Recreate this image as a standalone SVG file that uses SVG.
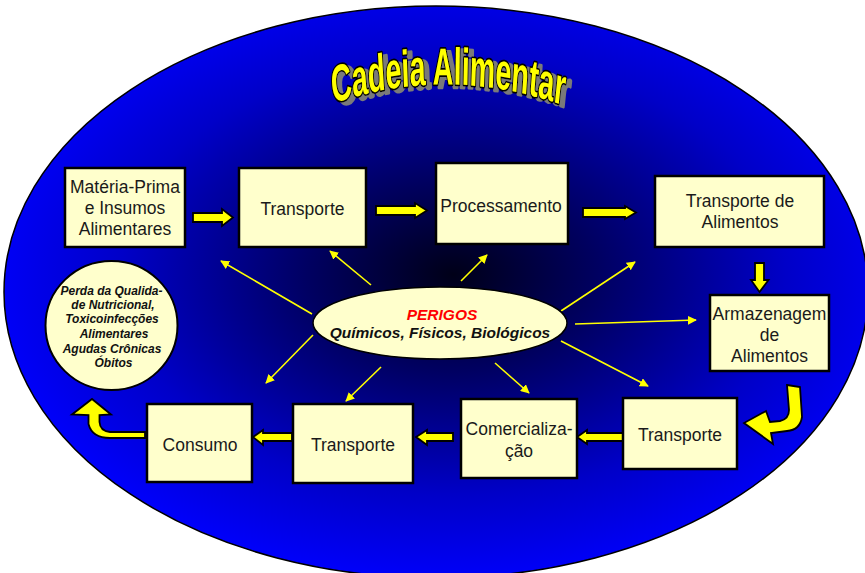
<svg xmlns="http://www.w3.org/2000/svg" width="865" height="573" viewBox="0 0 865 573">
<defs>
<radialGradient id="bg" cx="0.52" cy="0.47" r="0.55">
<stop offset="0" stop-color="#000018"/>
<stop offset="0.3" stop-color="#000060"/>
<stop offset="0.7" stop-color="#0000c8"/>
<stop offset="1" stop-color="#0000ff"/>
</radialGradient>
<filter id="shadow" x="-10%" y="-20%" width="130%" height="150%">
<feOffset in="SourceAlpha" dx="5" dy="3" result="off"/>
<feFlood flood-color="#7a7a7a"/>
<feComposite in2="off" operator="in" result="sh"/>
<feMerge><feMergeNode in="sh"/><feMergeNode in="SourceGraphic"/></feMerge>
</filter>
<marker id="ah" viewBox="0 0 10 10" refX="9" refY="5" markerWidth="9" markerHeight="9" markerUnits="userSpaceOnUse" orient="auto">
<path d="M0,0 L10,5 L0,10 Z" fill="#ffff00"/>
</marker>
<path id="arc" d="M-210,104 Q0,64 215,106"/>
</defs>
<style>
.box{fill:#ffffcc;stroke:#000;stroke-width:2.5}
.t{font-family:"Liberation Sans",Arial,sans-serif;font-size:17.5px;fill:#1a1a1a;text-anchor:middle}
.c{font-family:"Liberation Sans",Arial,sans-serif;font-size:12px;font-weight:bold;font-style:italic;fill:#111;text-anchor:middle}
.p{font-family:"Liberation Sans",Arial,sans-serif;font-size:15.5px;font-weight:bold;font-style:italic;text-anchor:middle}
.big{fill:#ffff00;stroke:#000;stroke-width:1.8;stroke-linejoin:miter}
.thin{stroke:#ffff00;stroke-width:1.6;fill:none;marker-end:url(#ah)}
.title{font-family:"Liberation Sans",Arial,sans-serif;font-size:52px;font-weight:bold}
</style>
<ellipse cx="436" cy="292" rx="432" ry="286" fill="url(#bg)" stroke="#000" stroke-width="1.5"/>
<g id="title" filter="url(#shadow)">
<g transform="translate(447,0) scale(0.55,1)">
<text class="title" fill="#ffff00" stroke="#000" stroke-width="3.5" paint-order="stroke" stroke-linejoin="round" text-anchor="middle"><textPath href="#arc" startOffset="50%">Cadeia Alimentar</textPath></text>
</g>
</g>
<g id="connectors">
<line class="thin" x1="312" y1="314" x2="221" y2="261"/>
<line class="thin" x1="371" y1="285" x2="330" y2="251"/>
<line class="thin" x1="461" y1="281" x2="487" y2="255"/>
<line class="thin" x1="561" y1="311" x2="635" y2="262"/>
<line class="thin" x1="575" y1="324" x2="696" y2="320"/>
<line class="thin" x1="561" y1="341" x2="648" y2="386"/>
<line class="thin" x1="495" y1="363" x2="529" y2="393"/>
<line class="thin" x1="381" y1="367" x2="346" y2="401"/>
<line class="thin" x1="313" y1="335" x2="266" y2="383"/>
<polygon class="big" points="193,213 222,213 222,209 233,217.5 222,226 222,222 193,222"/>
<polygon class="big" points="376,206 415,206 415,203 427,210.5 415,218 415,215 376,215"/>
<polygon class="big" points="583,208 625,208 625,206 636,212.5 625,219 625,217 583,217"/>
<polygon class="big" points="755,263 764,263 764,280 768.5,280 759.5,292 751,280 755,280"/>
<path class="big" d="M787,385 L800,387 L802,417 Q800,430 787,431 L771,433 L773,444 L744,423 L766,411 L770,422 L780,421 Q789,419 789,410 Z"/>
<polygon class="big" points="623,433 587,433 587,430 577,437 587,444 587,441 623,441"/>
<polygon class="big" points="453,433 427,433 427,430 416,437 427,445 427,441 453,441"/>
<polygon class="big" points="292,433 263,433 263,430 253,437 263,445 263,441 292,441"/>
<path class="big" d="M145,432 L110,432 Q100,431 99.5,422 L99.5,415 L111,414.5 L92,399 L72,414.5 L88.5,415 L88.5,424 Q92,438 110,438 L145,438 Z"/>
</g>
<g id="perigos">
<ellipse cx="440" cy="323" rx="127" ry="36" fill="#ffffcc" stroke="#000" stroke-width="1.5"/>
<text class="p" x="442" y="320" fill="#ff0000">PERIGOS</text>
<text class="p" x="440" y="338" fill="#111">Químicos, Físicos, Biológicos</text>
</g>
<g id="materia">
<rect class="box" x="65" y="168" width="120" height="79"/>
<text class="t" x="125" y="193">Matéria-Prima</text>
<text class="t" x="125" y="214">e Insumos</text>
<text class="t" x="125" y="235">Alimentares</text>
</g>
<g id="transporte1">
<rect class="box" x="239" y="168" width="127" height="79"/>
<text class="t" x="302.5" y="215">Transporte</text>
</g>
<g id="processamento">
<rect class="box" x="436" y="163" width="132" height="81"/>
<text class="t" x="501" y="212">Processamento</text>
</g>
<g id="transporte-alimentos">
<rect class="box" x="655" y="176" width="169" height="71"/>
<text class="t" x="740" y="207">Transporte de</text>
<text class="t" x="740" y="228">Alimentos</text>
</g>
<g id="armazenagem">
<rect class="box" x="710" y="295" width="119" height="76"/>
<text class="t" x="769.5" y="320">Armazenagem</text>
<text class="t" x="769.5" y="341">de</text>
<text class="t" x="769.5" y="362">Alimentos</text>
</g>
<g id="transporte2">
<rect class="box" x="623" y="398" width="114" height="71"/>
<text class="t" x="680" y="441">Transporte</text>
</g>
<g id="comercializacao">
<rect class="box" x="461" y="399" width="116" height="79"/>
<text class="t" x="519" y="435">Comercializa-</text>
<text class="t" x="519" y="457">ção</text>
</g>
<g id="transporte3">
<rect class="box" x="293" y="404" width="120" height="79"/>
<text class="t" x="353" y="451">Transporte</text>
</g>
<g id="consumo">
<rect class="box" x="147" y="404" width="105" height="78"/>
<text class="t" x="200" y="451">Consumo</text>
</g>
<g id="perda">
<ellipse cx="111.5" cy="325.5" rx="66" ry="64.5" fill="#ffffcc" stroke="#000" stroke-width="2"/>
<text class="c" x="111.5" y="295">Perda da Qualida-</text>
<text class="c" x="113" y="309">de Nutricional,</text>
<text class="c" x="112" y="323">Toxicoinfecções</text>
<text class="c" x="114" y="338">Alimentares</text>
<text class="c" x="112" y="353">Agudas Crônicas</text>
<text class="c" x="113.5" y="367">Óbitos</text>
</g>
</svg>
